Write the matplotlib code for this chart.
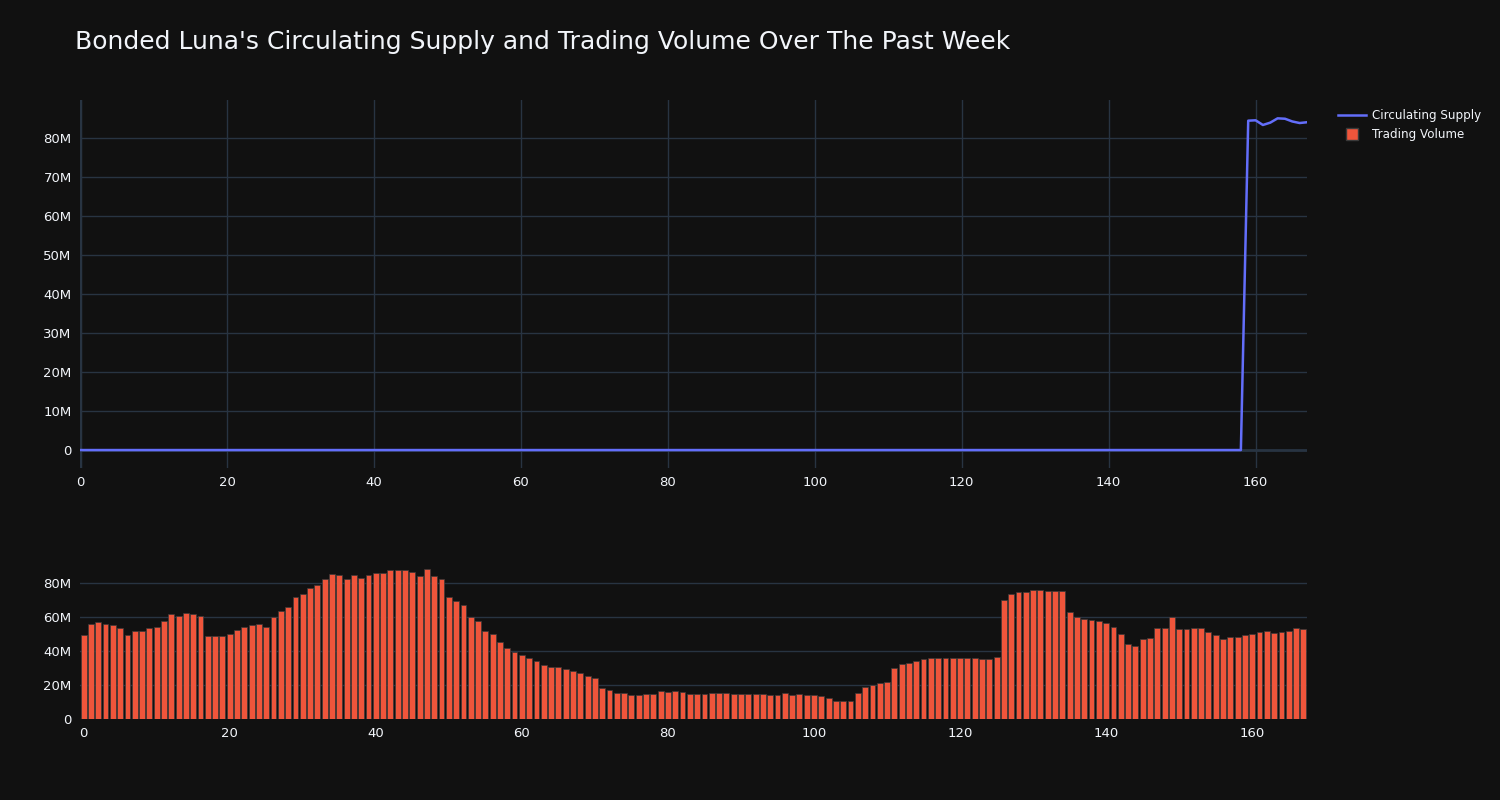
import numpy as np
import matplotlib
matplotlib.use('Agg')
import matplotlib.pyplot as plt
from matplotlib.ticker import FuncFormatter, MultipleLocator
from matplotlib.lines import Line2D

# hourly samples over the past week (index 0..167)
# circulating supply sits at ~0 until hour 158, then jumps to ~84M
supply_m = [0.0] * 159 + [84.4, 84.5, 83.3, 83.9, 85.0, 84.9, 84.2, 83.8, 84.0]

# trading volume in millions
volume_m = [
    49.5, 55.7, 56.9, 55.9, 55.0, 53.4, 49.1, 51.8, 51.8, 53.2,
    54.2, 57.3, 61.8, 60.4, 62.2, 61.8, 60.6, 48.5, 48.5, 48.9,
    49.9, 52.0, 53.8, 55.0, 55.9, 53.8, 59.9, 63.2, 65.9, 71.8,
    73.3, 76.9, 78.8, 82.5, 84.9, 84.5, 82.2, 84.5, 82.9, 84.3,
    85.5, 85.9, 87.8, 87.4, 87.6, 86.5, 84.1, 88.2, 83.9, 82.3,
    71.8, 69.6, 66.7, 60.0, 57.3, 51.8, 50.1, 45.4, 41.7, 39.5,
    37.4, 35.6, 33.8, 31.7, 30.7, 30.5, 29.5, 28.2, 26.8, 25.0,
    24.3, 18.2, 17.2, 15.1, 15.3, 14.1, 14.1, 14.7, 14.7, 16.2,
    15.6, 16.4, 16.0, 14.7, 14.9, 14.9, 15.1, 15.3, 15.1, 14.9,
    14.7, 14.7, 14.7, 14.5, 14.3, 14.3, 15.1, 13.9, 14.9, 14.3,
    14.1, 13.3, 12.5, 10.8, 10.4, 10.8, 15.5, 18.6, 20.1, 21.1,
    21.5, 29.7, 32.1, 33.1, 33.8, 35.4, 35.6, 35.6, 35.6, 35.6,
    35.6, 35.6, 35.6, 35.2, 35.4, 36.2, 69.8, 73.7, 74.7, 74.5,
    75.5, 75.5, 75.1, 74.9, 74.9, 62.9, 59.8, 58.7, 57.9, 57.5,
    56.5, 54.0, 49.7, 43.8, 43.0, 47.1, 47.3, 53.2, 53.4, 60.2,
    52.8, 52.8, 53.2, 53.4, 51.2, 49.3, 46.7, 47.9, 48.1, 49.1,
    50.1, 51.1, 51.8, 50.7, 51.1, 51.4, 53.2, 52.6,
]

supply = np.array(supply_m) * 1e6
volume = np.array(volume_m) * 1e6
hours = np.arange(len(volume))

BG = '#111111'
GRID = '#283442'
TEXT = '#f2f5fa'
BLUE = '#636efa'
RED = '#ef553b'


def millions(v, pos):
    if v == 0:
        return '0'
    return f'{v / 1e6:.0f}M'


fig = plt.figure(figsize=(15, 8), dpi=100, facecolor=BG)

# --- top: circulating supply
ax1 = fig.add_axes([80 / 1500, 1 - 468 / 800, 1227 / 1500, 368 / 800])
ax1.set_facecolor(BG)
ax1.plot(hours, supply, color=BLUE, linewidth=1.8, zorder=3)
ax1.set_xlim(0, 167)
ax1.set_ylim(-4.6e6, 89.7e6)
ax1.xaxis.set_major_locator(MultipleLocator(20))
ax1.yaxis.set_major_locator(MultipleLocator(10e6))
ax1.yaxis.set_major_formatter(FuncFormatter(millions))
ax1.grid(True, color=GRID, linewidth=1)
ax1.axvline(0, color=GRID, linewidth=2.5, zorder=2)
ax1.axhline(0, color=GRID, linewidth=2, zorder=2)

# --- bottom: trading volume
ax2 = fig.add_axes([80 / 1500, 1 - 719 / 800, 1227 / 1500, 158 / 800])
ax2.set_facecolor(BG)
ax2.bar(hours, volume, width=0.8, color=RED, edgecolor='#3a3a3a', linewidth=0.5, zorder=3)
ax2.set_xlim(-0.5, 167.5)
ax2.set_ylim(0, 92.8e6)
ax2.xaxis.set_major_locator(MultipleLocator(20))
ax2.yaxis.set_major_locator(MultipleLocator(20e6))
ax2.yaxis.set_major_formatter(FuncFormatter(millions))
ax2.grid(True, axis='y', color=GRID, linewidth=1)

for ax in (ax1, ax2):
    ax.set_axisbelow(True)
    for s in ax.spines.values():
        s.set_visible(False)
    ax.tick_params(colors=TEXT, labelcolor=TEXT, labelsize=9.5, length=0, pad=6)

fig.text(75 / 1500, 1 - 42 / 800, "Bonded Luna's Circulating Supply and Trading Volume Over The Past Week",
         color=TEXT, fontsize=18, va='center', ha='left')

handles = [Line2D([0], [0], color=BLUE, linewidth=1.8),
           Line2D([0], [0], marker='s', color=BG, markerfacecolor=RED, markeredgecolor='#3a3a3a',
                  markersize=8.5, linewidth=0)]
fig.legend(handles, ['Circulating Supply', 'Trading Volume'], loc='upper left',
           bbox_to_anchor=(1327 / 1500, 1 - 98 / 800), frameon=False,
           labelcolor=TEXT, fontsize=8.6, handlelength=2.4, handletextpad=0.45,
           labelspacing=0.55)

fig.savefig('out.png', dpi=100, facecolor=BG)
